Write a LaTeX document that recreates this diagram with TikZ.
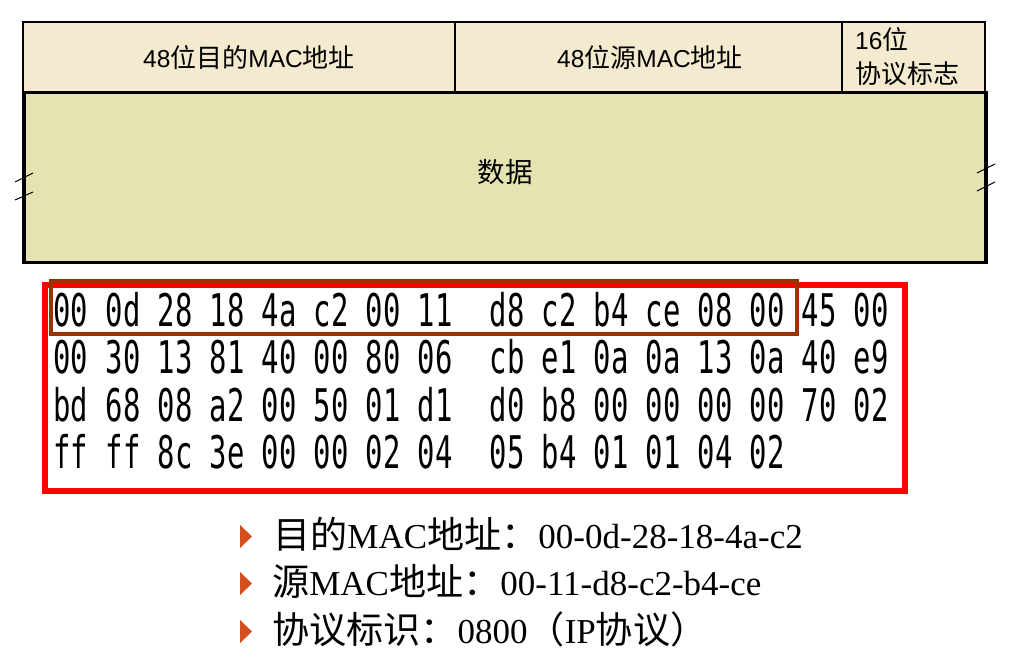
\documentclass[tikz,border=0pt]{standalone}
\usepackage{fontspec}
\usetikzlibrary{positioning}
\setmainfont{Liberation Serif}
\newfontfamily\hdrsans{Liberation Sans}
\newfontfamily\cjk[Scale=1.06]{Noto Sans CJK SC}
\newfontfamily\hexfont[FakeStretch=0.642]{DejaVu Sans Mono}
\newcommand{\zh}[1]{{\cjk #1}}
\definecolor{hdrfill}{RGB}{243,234,207}
\definecolor{datafill}{RGB}{230,227,179}
\definecolor{boxred}{RGB}{255,0,0}
\definecolor{boxbrown}{RGB}{153,51,0}
\definecolor{bulletorange}{RGB}{214,78,28}

\begin{document}
\begin{tikzpicture}[x=1pt,y=-1pt,line join=miter,
  hdrlabel/.style={anchor=base,inner sep=0pt,font=\hdrsans\fontsize{24.5}{29}\selectfont},
  hexbyte/.style={anchor=base,inner sep=0pt,font=\hexfont\fontsize{45}{54}\selectfont},
  itemtext/.style={anchor=base west,inner sep=0pt,font=\fontsize{35}{42}\selectfont},
  breakmark/.style={black,line width=1pt}]
\useasboundingbox (0,0) rectangle (1016,660);
%% frame layout
\filldraw [fill=hdrfill,draw=black,line width=2pt] (23,22) rectangle (985,92);
\draw [line width=2pt] (455,22) -- (455,92);
\draw [line width=2pt] (842,22) -- (842,92);
\filldraw [fill=datafill,draw=black,line width=3.5pt] (24,92.5) rectangle (986,262.5);
\draw [breakmark] (15,182) -- (33,173);
\draw [breakmark] (15,200) -- (33,192);
\draw [breakmark] (977,173) -- (995,164);
\draw [breakmark] (977,191) -- (995,182);
\node (lbl_dst) at (249,68) [hdrlabel] {48\zh{位目的}MAC\zh{地址}};
\node (lbl_src) at (650,68) [hdrlabel] {48\zh{位源}MAC\zh{地址}};
\node (lbl_type_a) at (855,50) [hdrlabel,anchor=base west] {16\zh{位}};
\node (lbl_type_b) at (855,84) [hdrlabel,anchor=base west] {\zh{协议标志}};
\node (lbl_data) at (505,183) [hdrlabel,font=\hdrsans\fontsize{26}{31}\selectfont] {\zh{数据}};
%% captured bytes
\foreach \bytes [count=\r] in {{00,0d,28,18,4a,c2,00,11,d8,c2,b4,ce,08,00,45,00},
    {00,30,13,81,40,00,80,06,cb,e1,0a,0a,13,0a,40,e9},
    {bd,68,08,a2,00,50,01,d1,d0,b8,00,00,00,00,70,02},
    {ff,ff,8c,3e,00,00,02,04,05,b4,01,01,04,02}}
  \foreach \b [count=\c] in \bytes
    \node (byte_\r_\c) at ({71+52*(\c-1)+(\c>8)*20},{326+47.5*(\r-1)}) [hexbyte] {\b};
\draw [boxred,line width=6pt] (45,285) rectangle (905,491);
\draw [boxbrown,line width=4pt] (51,281) rectangle (797,334);
%% notes
\coordinate (bul_1) at (240,548);
\coordinate (bul_2) at (240,595);
\coordinate (bul_3) at (240,643);
\foreach \k in {1,2,3}
  \fill [bulletorange] (bul_\k) -- ++(0,-23) -- ++(12,11.5) -- cycle;
\node (note_dst) [itemtext,right=33pt of bul_1,anchor=base west] {\zh{目的}MAC\zh{地址：}00-0d-28-18-4a-c2};
\node (note_src) [itemtext,right=32pt of bul_2,anchor=base west] {\zh{源}MAC\zh{地址：}00-11-d8-c2-b4-ce};
\node (note_type) [itemtext,right=32pt of bul_3,anchor=base west] {\zh{协议标识：}0800\zh{（}IP\zh{协议）}};
%
\end{tikzpicture}
\end{document}
